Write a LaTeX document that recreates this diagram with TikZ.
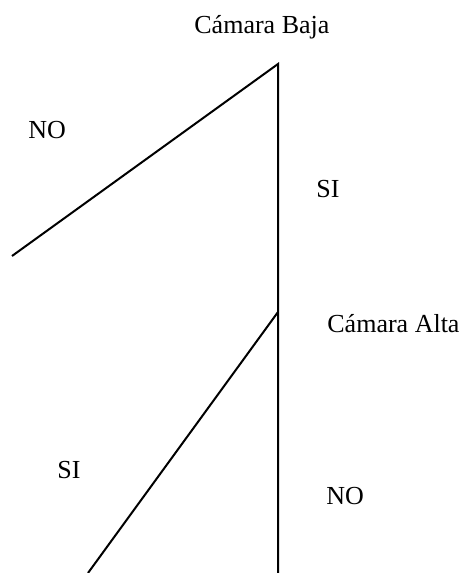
\documentclass[tikz,border=0pt]{standalone}
\usepackage{fontspec}
\setmainfont{Liberation Serif}
\begin{document}
\begin{tikzpicture}[x=0.5pt,y=-0.5pt,
  branch/.style={line width=1pt,line cap=butt},
  lbl/.style={inner sep=0pt,anchor=base west,font=\fontsize{13pt}{15pt}\selectfont}]
\useasboundingbox (0,0) rectangle (463,573);
\coordinate (top) at (278,64);
\coordinate (alta) at (278,312);
\coordinate (leftend) at (12,256);
\coordinate (bottom) at (278,573);
\coordinate (bl) at (88,573);
\draw[branch] (leftend) -- (top) -- (bottom);
\draw[branch] (alta) -- (bl);
\node[lbl] (baja) at (194,33) {Cámara Baja};
\node[lbl] (no1) at (28,138) {NO};
\node[lbl] (si1) at (316,197) {SI};
\node[lbl] (altal) at (327,332) {Cámara Alta};
\node[lbl] (si2) at (57,478) {SI};
\node[lbl] (no2) at (326,504) {NO};
\end{tikzpicture}
\end{document}
